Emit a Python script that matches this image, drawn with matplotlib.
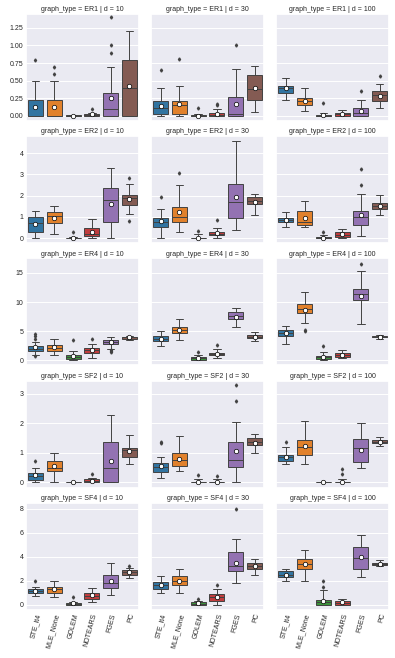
import matplotlib
matplotlib.use("Agg")
import matplotlib.pyplot as plt
import seaborn as sns

methods = ["STE_lt4", "MLE_None", "GOLEM", "NOTEARS", "FGES", "PC"]
graph_types = ["ER1", "ER2", "ER4", "SF2", "SF4"]
dims = [10, 30, 100]

# per box: (whislo, q1, median, q3, whishi, mean)
ER1_10 = [(0, 0, 0, 0.22, 0.5, 0.13), (0, 0, 0, 0.22, 0.5, 0.13), (0, 0, 0, 0.01, 0.01, 0.0),
          (0, 0, 0.01, 0.02, 0.04, 0.03), (0, 0, 0.1, 0.33, 0.7, 0.25), (0, 0, 0.4, 0.8, 1.2, 0.42)]
ER1_10_FLIERS = [[0.8], [0.6, 0.7], [], [0.1], [0.9, 1.0, 1.4], []]
ER1_30 = [(0, 0.03, 0.11, 0.21, 0.4, 0.14), (0, 0.02, 0.15, 0.21, 0.43, 0.17), (0, 0, 0, 0.01, 0.02, 0.0),
          (0, 0, 0.01, 0.04, 0.1, 0.03), (0, 0, 0.03, 0.27, 0.67, 0.17), (0.06, 0.23, 0.38, 0.58, 0.71, 0.4)]
ER1_30_FLIERS = [[0.65], [0.81], [0.11], [0.15, 0.17], [1.01], []]
ER1_100 = [(0.23, 0.33, 0.39, 0.43, 0.54, 0.39), (0.07, 0.15, 0.21, 0.25, 0.39, 0.21), (0, 0, 0, 0.01, 0.04, 0.01),
           (0, 0, 0.02, 0.04, 0.09, 0.02), (0, 0, 0.04, 0.11, 0.22, 0.07), (0.11, 0.21, 0.29, 0.35, 0.45, 0.28)]
ER1_100_FLIERS = [[], [], [0.18], [], [0.36], [0.57]]

ER2_10 = [(0, 0.28, 0.7, 0.99, 1.29, 0.66), (0.2, 0.7, 1.05, 1.22, 1.52, 0.94), (0, 0, 0, 0.02, 0.05, 0.02),
          (0, 0.12, 0.2, 0.5, 0.9, 0.3), (0, 0.75, 1.79, 2.38, 3.3, 1.62), (1.15, 1.54, 1.91, 2.02, 2.57, 1.84)]
ER2_10_FLIERS = [[], [], [0.31], [], [], [0.82, 2.82]]
ER2_30 = [(0.03, 0.55, 0.75, 0.97, 1.35, 0.8), (0.28, 0.75, 1.02, 1.49, 2.48, 1.21), (0, 0, 0, 0.02, 0.2, 0.02),
          (0, 0.13, 0.22, 0.31, 0.5, 0.24), (0.39, 0.94, 1.69, 2.56, 4.55, 1.95), (1.1, 1.6, 1.76, 1.95, 2.07, 1.71)]
ER2_30_FLIERS = [[1.93], [3.07], [0.35], [0.86], [], []]
ER2_100 = [(0.52, 0.74, 0.86, 0.97, 1.25, 0.86), (0.52, 0.63, 0.75, 1.29, 1.77, 0.94), (0, 0, 0.01, 0.05, 0.16, 0.02),
           (0, 0.08, 0.17, 0.27, 0.42, 0.18), (0.12, 0.6, 1.02, 1.29, 2.07, 1.07), (1.08, 1.38, 1.52, 1.65, 2.02, 1.52)]
ER2_100_FLIERS = [[], [], [0.27], [], [2.51, 3.25], []]

ER4_10 = [(0.86, 1.6, 2.0, 2.5, 3.1, 2.2), (0.97, 1.6, 2.06, 2.6, 3.6, 2.2), (0, 0.17, 0.46, 0.97, 1.6, 0.69),
          (0.3, 1.2, 1.7, 2.1, 2.7, 1.7), (2.0, 2.7, 3.1, 3.5, 4.0, 3.1), (3.5, 3.65, 3.9, 4.05, 4.2, 3.9)]
ER4_10_FLIERS = [[0.75, 3.7, 4.1, 4.5], [], [3.43], [3.6], [1.4, 1.6, 1.8], []]
ER4_30 = [(2.4, 3.26, 3.7, 4.1, 5.0, 3.7), (3.4, 4.7, 5.26, 5.7, 7.0, 5.26), (0, 0.1, 0.34, 0.57, 0.86, 0.34),
          (0.34, 0.86, 1.1, 1.3, 1.9, 1.1), (5.7, 7.1, 7.6, 8.2, 9.0, 7.5), (3.26, 3.83, 4.06, 4.34, 4.86, 4.06)]
ER4_30_FLIERS = [[], [], [1.4], [2.6], [], []]
ER4_100 = [(2.7, 4.1, 4.75, 5.26, 5.8, 4.75), (6.46, 8.1, 8.86, 9.7, 11.7, 8.7), (0, 0.23, 0.46, 0.69, 1.37, 0.57),
           (0.34, 0.57, 0.97, 1.3, 1.7, 0.97), (6.3, 10.4, 11.4, 12.3, 15.4, 11.1), (3.7, 3.9, 4.0, 4.2, 4.34, 4.0)]
ER4_100_FLIERS = [[], [5.0, 5.26], [2.46], [], [16.6], []]

SF2_10 = [(0, 0.08, 0.23, 0.32, 0.49, 0.26), (0, 0.37, 0.49, 0.72, 1.0, 0.54), (0, 0, 0, 0.01, 0.02, 0.01),
          (0, 0, 0.06, 0.1, 0.15, 0.06), (0, 0, 0.49, 1.38, 2.3, 0.72), (0.61, 0.87, 1.11, 1.18, 1.61, 1.05)]
SF2_10_FLIERS = [[0.71], [], [], [0.29], [], []]
SF2_30 = [(0.15, 0.34, 0.52, 0.66, 0.86, 0.54), (0.37, 0.56, 0.75, 0.98, 1.56, 0.8), (0, 0, 0, 0.01, 0.12, 0.0),
          (0, 0, 0, 0.01, 0.12, 0.01), (0, 0.52, 0.77, 1.36, 2.06, 1.05), (1.0, 1.26, 1.36, 1.52, 1.64, 1.33)]
SF2_30_FLIERS = [[1.32, 1.38], [], [0.24], [0.23], [2.76, 3.31], []]
SF2_100 = [(0.61, 0.72, 0.86, 0.94, 1.2, 0.86), (0.61, 0.92, 1.2, 1.44, 2.07, 1.23), (0, 0, 0, 0.01, 0.02, 0.0),
           (0, 0, 0, 0.02, 0.12, 0.01), (0.49, 0.69, 1.15, 1.47, 2.0, 1.11), (1.24, 1.33, 1.38, 1.44, 1.53, 1.36)]
SF2_100_FLIERS = [[1.38], [], [], [0.29, 0.44], [], []]

SF4_10 = [(0.7, 1.0, 1.1, 1.3, 1.5, 1.1), (0.6, 1.0, 1.3, 1.5, 2.0, 1.3), (0, 0, 0.02, 0.1, 0.2, 0.1),
          (0.2, 0.5, 0.7, 1.0, 1.4, 0.8), (0.8, 1.4, 1.8, 2.5, 3.5, 2.0), (2.2, 2.5, 2.7, 2.9, 3.1, 2.7)]
SF4_10_FLIERS = [[2.0], [], [0.6], [], [], [3.2]]
SF4_30 = [(1.0, 1.3, 1.6, 1.9, 2.4, 1.6), (1.0, 1.6, 2.0, 2.4, 3.0, 2.0), (0, 0, 0.05, 0.2, 0.3, 0.15),
          (0, 0.3, 0.6, 0.9, 1.3, 0.6), (1.8, 2.8, 3.2, 4.4, 5.5, 3.5), (2.5, 3.0, 3.2, 3.5, 3.8, 3.2)]
SF4_30_FLIERS = [[], [], [0.5], [1.6], [8.0], []]
SF4_100 = [(2.0, 2.3, 2.5, 2.8, 3.0, 2.5), (2.0, 3.0, 3.4, 3.8, 4.6, 3.4), (0, 0, 0.2, 0.4, 1.2, 0.3),
           (0, 0, 0.1, 0.3, 0.5, 0.2), (2.3, 3.0, 3.9, 4.8, 5.8, 4.0), (3.2, 3.3, 3.4, 3.5, 3.7, 3.4)]
SF4_100_FLIERS = [[], [], [1.5, 2.0], [], [], []]

panels = {
    ("ER1", 10): (ER1_10, ER1_10_FLIERS), ("ER1", 30): (ER1_30, ER1_30_FLIERS), ("ER1", 100): (ER1_100, ER1_100_FLIERS),
    ("ER2", 10): (ER2_10, ER2_10_FLIERS), ("ER2", 30): (ER2_30, ER2_30_FLIERS), ("ER2", 100): (ER2_100, ER2_100_FLIERS),
    ("ER4", 10): (ER4_10, ER4_10_FLIERS), ("ER4", 30): (ER4_30, ER4_30_FLIERS), ("ER4", 100): (ER4_100, ER4_100_FLIERS),
    ("SF2", 10): (SF2_10, SF2_10_FLIERS), ("SF2", 30): (SF2_30, SF2_30_FLIERS), ("SF2", 100): (SF2_100, SF2_100_FLIERS),
    ("SF4", 10): (SF4_10, SF4_10_FLIERS), ("SF4", 30): (SF4_30, SF4_30_FLIERS), ("SF4", 100): (SF4_100, SF4_100_FLIERS),
}
yticks = {
    "ER1": [0, 0.25, 0.5, 0.75, 1.0, 1.25],
    "ER2": [0, 1, 2, 3, 4],
    "ER4": [0, 5, 10, 15],
    "SF2": [0, 1, 2, 3],
    "SF4": [0, 2, 4, 6, 8],
}

sns.set_theme(style="darkgrid")
plt.rcParams["font.family"] = ["Liberation Sans", "DejaVu Sans"]
plt.rcParams["font.size"] = 5

palette = [sns.desaturate(c, 0.75) for c in sns.color_palette("tab10", 6)]
gray = "#424242"

fig, axes = plt.subplots(5, 3, figsize=(3.95, 6.58), dpi=100, sharex=True, sharey="row")
fig.subplots_adjust(left=0.066, right=0.985, top=0.979, bottom=0.073, wspace=0.11, hspace=0.143)

for i, gt in enumerate(graph_types):
    for j, d in enumerate(dims):
        ax = axes[i, j]
        boxes, fliers = panels[(gt, d)]
        stats = []
        for (lo, q1, med, q3, hi, mean), fl in zip(boxes, fliers):
            stats.append(dict(whislo=lo, q1=q1, med=med, q3=q3, whishi=hi, mean=mean, fliers=fl))
        art = ax.bxp(stats, positions=range(len(methods)), widths=0.8, patch_artist=True,
                     showmeans=True, manage_ticks=False,
                     boxprops=dict(edgecolor=gray, linewidth=0.7),
                     whiskerprops=dict(color=gray, linewidth=0.7),
                     capprops=dict(color=gray, linewidth=0.7),
                     medianprops=dict(color=gray, linewidth=0.7),
                     meanprops=dict(marker="o", markerfacecolor="white", markeredgecolor="black",
                                    markeredgewidth=0.5, markersize=3.2),
                     flierprops=dict(marker="d", markerfacecolor=gray, markeredgecolor=gray,
                                     markersize=1.6, linestyle="none"))
        for patch, c in zip(art["boxes"], palette):
            patch.set_facecolor(c)
        ax.set_title(f"graph_type = {gt} | d = {d}", fontsize=5, pad=2)
        ax.xaxis.grid(False)
        ax.yaxis.grid(True, color="white", linewidth=0.7)
        ax.tick_params(axis="both", labelsize=5, length=0, pad=2)
        ax.set_yticks(yticks[gt])
        ax.set_xlim(-0.5, len(methods) - 0.5)

axes[0, 0].set_ylim(-0.07, 1.45)
axes[1, 0].set_ylim(-0.23, 4.8)
axes[2, 0].set_ylim(-0.9, 17.5)
axes[3, 0].set_ylim(-0.18, 3.45)
axes[4, 0].set_ylim(-0.45, 8.5)

for ax in axes[-1]:
    ax.set_xticks(range(len(methods)))
    ax.set_xticklabels(methods, rotation=75, ha="right", rotation_mode="anchor")

fig.savefig("out.png", dpi=100)
